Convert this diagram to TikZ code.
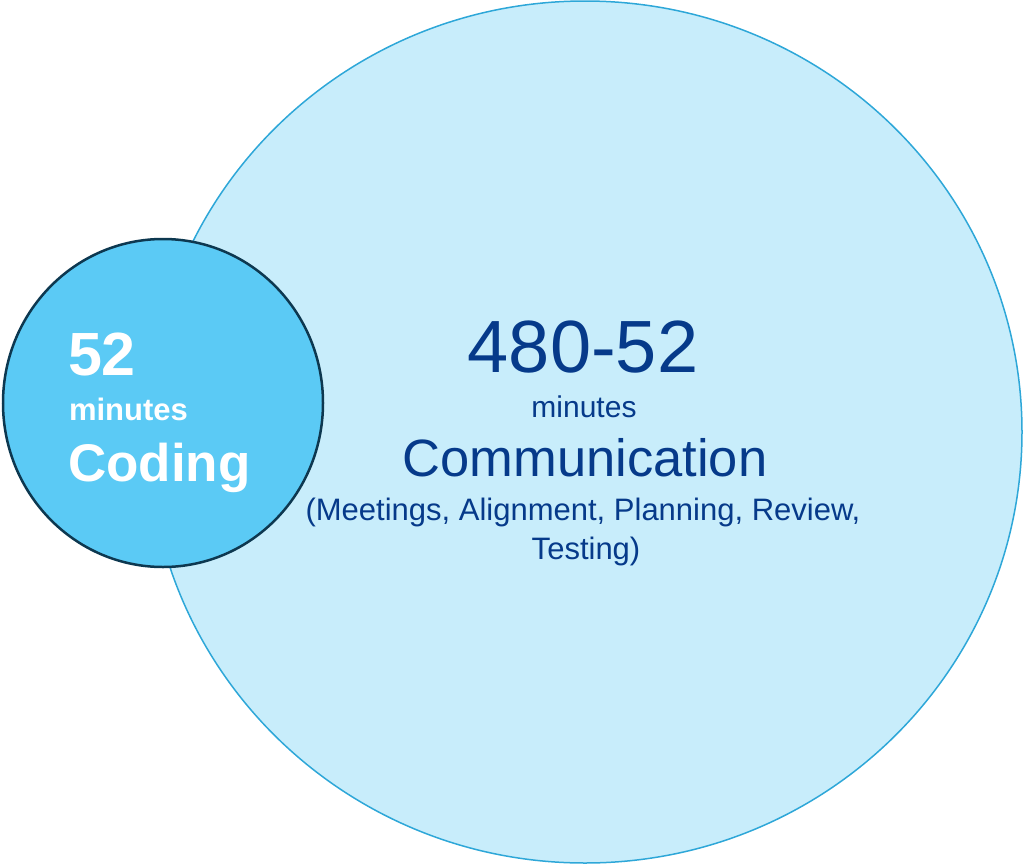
\documentclass[tikz,border=0pt]{standalone}
\usepackage{fontspec}
\setmainfont{Liberation Sans}
\definecolor{bigfill}{HTML}{C8EDFB}
\definecolor{bigline}{HTML}{2EA7D8}
\definecolor{smallfill}{HTML}{5BCAF5}
\definecolor{smallline}{HTML}{0D3850}
\definecolor{textblue}{HTML}{063A8A}
\tikzset{
  txt/.style={inner sep=0pt, outer sep=0pt},
  lefttxt/.style={txt, anchor=base west, text=white, font=\bfseries},
  righttxt/.style={txt, anchor=base, text=textblue},
}
\newcommand{\fs}[1]{\fontsize{#1}{#1}\selectfont}
\begin{document}
\begin{tikzpicture}[x=1pt,y=-1pt]
\useasboundingbox (0,0) rectangle (1023,865);
\draw[fill=bigfill, draw=bigline, line width=1.5pt] (585,432) ellipse [x radius=437, y radius=431];
\draw[fill=smallfill, draw=smallline, line width=2.5pt] (163,403) ellipse [x radius=160, y radius=164];
\node[lefttxt, font=\bfseries\fs{61}] (n52) at (68,375) {52};
\node[lefttxt, font=\bfseries\fs{31}] (nmin) at (69,420) {minutes};
\node[lefttxt, font=\bfseries\fs{53}] (ncod) at (68,481) {Coding};
\node[righttxt, font=\fs{74}] (r1) at (583,372) {480-52};
\node[righttxt, font=\fs{30}] (r2) at (584,417) {minutes};
\node[righttxt, font=\fs{52.5}] (r3) at (585,476) {Communication};
\node[righttxt, font=\fs{31}] (r4) at (583,520) {(Meetings, Alignment, Planning, Review,};
\node[righttxt, font=\fs{31}] (r5) at (586,559) {Testing)};
\end{tikzpicture}
\end{document}
